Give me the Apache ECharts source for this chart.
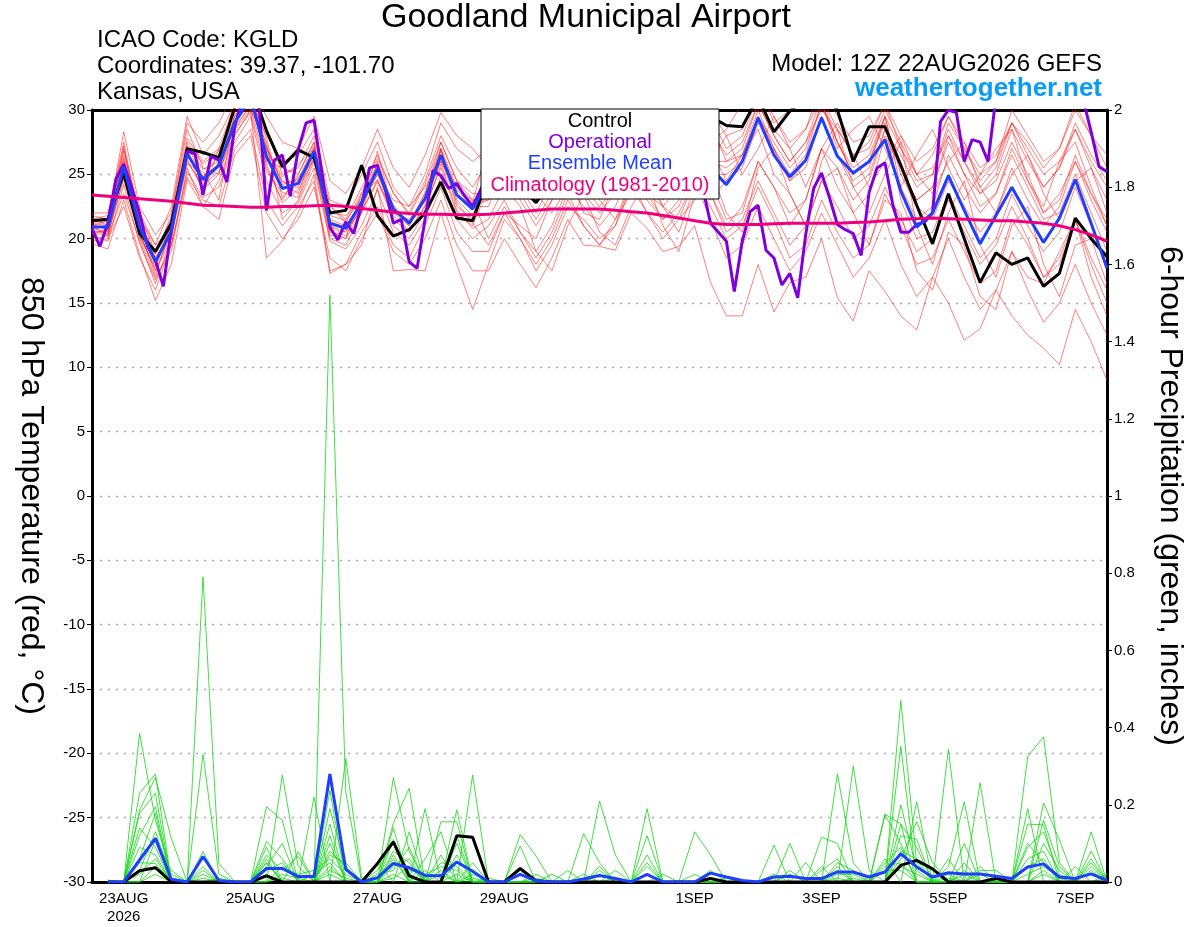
<!DOCTYPE html>
<html><head><meta charset="utf-8">
<script src="https://cdn.jsdelivr.net/npm/echarts@6/dist/echarts.min.js"></script>
<style>html,body{margin:0;padding:0;background:#fff}#chart{width:1200px;height:927px}</style>
</head><body><div id="chart"></div>
<script>
const FONT = '"Liberation Sans", Arial, Helvetica, sans-serif';

// x axis: hours since 12Z 22AUG2026
const xTickHours  = [12, 60, 108, 156, 228, 276, 324, 372];
const xTickLabels = ['23AUG\n2026', '25AUG', '27AUG', '29AUG', '1SEP', '3SEP', '5SEP', '7SEP'];

// ---- 850 hPa temperature (°C), 6-hourly from 12Z 22AUG ----
const tempControl = [21.4,21.5,25.1,20.4,19.0,21.2,27.0,26.7,26.3,30.2,32.0,28.4,25.6,26.9,26.3,22.0,22.2,25.7,21.8,20.2,20.7,22.0,24.4,21.6,21.4,
  24.8,24.0,24.0,22.8,24.5,26.0,27.5,26.0,25.0,27.0,28.5,27.0,26.0,27.5,29.5,
  28.8,28.7,31.0,28.3,29.9,31.0,31.5,30.0,26.0,28.7,28.7,25.7,22.6,19.6,23.5,20.0,16.6,18.9,18.0,18.5,16.3,17.3,21.6,20.0,18.6];
const tempMean = [20.9,20.9,25.6,20.9,18.2,20.6,26.6,24.6,25.7,29.0,31.0,26.4,23.9,24.3,26.8,21.2,20.8,22.8,25.4,22.3,21.2,23.1,26.5,23.4,22.3,
  24.5,25.5,24.5,24.0,25.0,26.0,25.5,26.5,25.5,26.0,27.0,26.5,25.5,26.5,25.5,
  24.2,26.0,29.4,26.5,24.8,26.1,29.4,26.4,25.1,26.0,27.7,23.7,20.9,22.0,24.9,22.2,19.6,21.8,24.0,21.8,19.7,21.6,24.6,21.2,17.7];
// operational run, 3-hourly
const tempOperational = [20.8,19.4,21.2,24.6,25.8,24.0,22.0,19.4,18.3,16.3,20.7,23.8,26.8,26.6,23.4,26.4,26.1,24.4,28.7,31.0,32.0,31.0,22.2,26.1,26.5,
  23.3,26.9,29.0,29.2,25.1,20.9,19.9,21.3,20.4,22.6,25.5,25.7,23.8,21.2,21.5,18.2,17.7,21.5,25.3,24.9,23.9,24.3,23.3,22.5,
  23.8,25.0,26.0,25.5,24.5,25.5,27.0,26.5,25.5,26.0,27.5,28.0,27.0,26.0,26.5,27.0,26.0,25.0,26.5,28.0,27.5,26.0,25.5,27.0,28.5,27.5,26.5,25.5,24.0,
  21.2,20.5,19.8,15.9,19.8,22.1,22.6,19.1,18.5,16.4,17.3,15.4,20.3,23.9,25.1,23.2,21.1,20.7,20.4,18.7,23.6,25.5,25.9,22.6,20.5,20.5,21.1,21.3,22.0,
  29.1,30.0,29.8,26.0,27.7,27.5,26.0,31.0,32.0,32.0,31.5,32.0,32.5,32.0,31.5,32.0,31.5,31.0,30.8,28.3,25.6,25.2];
const tempClimatology = [23.4,23.3,23.2,23.1,23.0,22.9,22.75,22.6,22.55,22.5,22.45,22.45,22.5,22.5,22.55,22.6,22.5,22.35,22.2,22.05,21.95,21.9,21.9,21.85,21.85,
  21.9,22.0,22.1,22.2,22.3,22.3,22.3,22.3,22.2,22.1,22.0,21.8,21.6,21.4,21.2,
  21.1,21.1,21.1,21.15,21.2,21.2,21.2,21.2,21.25,21.3,21.4,21.5,21.55,21.6,21.55,21.5,21.45,21.4,21.4,21.3,21.2,21.0,20.7,20.3,19.8];

// ensemble members (temperature), 6-hourly
const tempMemberA = [21.2,21.0,26.8,21.8,19.0,21.5,27.8,26.0,27.0,30.5,31.5,28.5,25.0,25.5,28.0,22.5,21.5,24.0,26.5,23.5,22.0,24.5,28.0,25.5,24.0,
  26.0,29.0,27.0,25.5,27.5,30.5,28.5,27.0,28.5,31.0,29.0,27.5,29.0,31.5,29.5,27.0,28.0,31.0,28.5,27.0,28.5,32.0,29.5,27.5,28.0,30.5,27.0,25.0,26.5,29.5,27.0,24.5,26.0,29.0,26.5,24.0,25.5,28.5,25.5,23.0];
const tempMemberB = [20.2,19.8,24.2,19.6,16.8,19.5,25.2,23.2,24.0,27.5,29.5,24.5,22.0,22.8,25.5,19.8,19.2,21.0,23.8,20.5,19.5,21.5,24.8,21.5,20.0,
  21.0,23.0,20.5,18.5,20.5,23.5,21.0,19.5,21.0,24.0,22.0,20.0,21.5,24.5,21.5,18.5,19.5,22.5,20.0,17.5,19.0,22.0,19.5,17.0,18.5,21.5,18.0,15.5,17.0,20.0,17.0,14.5,16.0,19.0,16.0,13.5,15.0,18.0,15.0,12.5];
const tempMemberC = [21.8,21.5,28.3,22.5,20.3,22.0,29.0,27.5,29.0,31.5,32.0,29.5,27.5,27.0,29.5,24.5,23.5,25.5,28.5,25.5,24.0,26.5,29.8,28.0,27.0,
  25.5,28.0,26.0,24.5,26.5,29.5,27.0,25.5,27.5,30.0,28.0,26.5,28.0,30.5,28.5,26.5,27.5,30.5,28.0,26.0,27.5,30.0,28.5,26.5,27.5,30.5,28.0,26.0,27.0,29.5,27.5,25.5,26.5,29.0,27.0,25.0,26.0,28.5,26.0,24.0];
const tempMemberD = [19.6,19.2,23.0,18.8,15.2,18.0,24.6,22.5,21.5,26.5,28.0,22.0,20.0,21.5,24.0,18.5,17.5,20.0,22.0,19.0,18.0,20.0,23.0,19.5,17.5,
  17.5,20.0,18.0,16.2,18.5,21.5,19.5,19.4,19.1,22.0,20.8,19.0,19.4,21.0,16.6,14.0,14.0,18.0,14.3,16.6,17.0,20.0,15.4,13.6,17.5,15.9,14.0,12.9,17.0,15.0,12.1,13.0,16.0,14.0,12.5,11.5,10.2,14.5,12.0,9.0];
const tempMemberE = [20.8,20.5,25.0,20.5,17.5,20.0,26.0,24.0,26.0,28.5,30.5,27.0,24.5,23.5,27.0,21.0,20.5,22.5,25.5,22.5,21.0,23.5,27.5,24.5,23.0,
  23.0,26.0,24.0,22.0,24.5,27.5,25.0,23.5,25.0,28.0,25.5,24.0,25.5,28.5,26.0,25.5,26.5,29.5,27.0,25.0,26.5,30.5,27.5,25.5,26.5,29.5,25.0,22.5,21.5,24.5,22.5,20.5,22.0,25.5,23.0,21.0,22.5,26.0,23.5,21.5];
const tempMemberF = [21.5,21.8,27.5,21.2,18.8,21.8,28.5,25.5,25.0,29.5,31.5,25.5,23.0,25.0,27.5,20.5,20.0,23.5,24.5,21.5,20.5,22.5,25.5,22.0,21.0,
  24.0,26.5,23.0,21.0,23.0,25.5,23.5,22.0,23.5,26.5,24.5,22.5,24.0,27.0,24.5,21.5,22.0,26.0,24.0,21.0,23.0,27.0,24.0,22.0,23.5,28.0,25.5,23.0,24.0,28.0,26.0,24.0,25.5,29.0,27.5,25.5,27.0,30.0,28.0,26.5];
const tempMemberG = [20.0,20.2,24.8,20.0,17.0,19.0,25.5,22.5,24.5,28.0,30.0,18.5,19.8,22.0,25.0,17.5,18.0,19.5,24.0,17.5,17.6,17.5,22.0,18.0,14.5,
  18.0,21.5,20.0,17.5,19.5,22.5,21.5,20.0,21.0,24.5,23.0,21.5,22.5,25.5,23.5,21.0,22.5,26.0,24.0,22.0,23.0,27.0,25.5,23.0,24.5,28.5,26.5,24.0,25.0,28.5,26.0,23.5,24.5,27.5,25.0,22.0,23.5,26.0,23.0,20.5];
const tempMemberH = [22.0,22.0,27.0,22.0,19.5,22.5,29.5,26.5,28.0,30.5,31.0,28.0,26.0,26.5,28.5,23.0,22.5,25.0,27.5,24.0,22.5,25.0,29.0,27.0,26.0,
  27.0,30.0,28.5,26.5,28.5,31.5,29.5,28.0,29.5,32.0,30.5,28.5,29.5,32.0,30.0,28.0,28.5,31.5,29.5,27.5,28.5,31.0,28.5,26.5,27.0,30.0,27.5,25.0,25.5,28.0,25.0,22.5,23.5,26.5,24.0,21.5,22.0,25.0,22.0,19.0];
const tempMemberI = [20.5,20.6,26.0,21.0,18.0,20.5,26.5,24.5,25.5,29.0,30.5,26.5,24.0,24.0,26.5,21.5,21.0,22.5,25.0,22.0,21.5,23.0,26.0,23.5,22.5,
  22.5,25.5,23.5,21.5,23.5,26.5,24.0,22.5,24.0,27.0,25.0,23.0,24.5,27.5,25.0,25.0,26.0,29.5,27.5,25.5,27.0,30.5,27.5,25.0,26.0,29.0,23.0,20.0,20.5,23.5,21.0,18.5,20.0,23.5,21.0,19.0,20.5,24.0,21.0,18.0];
const tempMemberJ = [21.0,20.2,23.5,19.8,16.5,20.0,27.0,23.5,27.0,28.5,30.0,27.5,21.5,23.0,26.0,20.0,19.5,22.0,26.0,21.0,20.0,22.0,27.0,22.5,21.5,
  24.5,27.5,25.0,23.0,25.0,28.0,26.0,24.5,26.0,29.0,27.0,25.0,26.5,29.5,27.0,24.5,25.5,29.0,26.5,24.5,26.0,29.5,26.5,24.0,25.0,28.5,25.5,23.0,24.0,27.5,25.0,23.5,25.0,28.5,26.0,24.0,25.5,29.0,26.5,24.5];
const tempMemberK = [21.3,21.3,25.8,21.6,19.5,20.8,25.8,25.2,23.0,29.8,31.5,26.0,25.5,25.0,27.5,22.0,21.8,23.0,25.0,23.0,22.5,24.0,26.0,24.0,23.0,
  20.0,22.5,20.5,19.0,21.0,24.0,22.5,21.0,22.5,25.5,23.5,21.5,23.0,26.0,23.5,20.5,21.5,24.5,22.0,19.5,21.0,24.5,22.5,20.0,21.0,24.0,21.5,19.0,20.0,23.0,20.5,18.0,19.5,22.5,20.0,17.0,18.5,21.5,18.0,15.0];
const tempMemberL = [20.3,20.8,27.2,20.2,17.8,21.2,27.2,24.8,26.5,30.0,31.0,27.8,23.2,24.8,26.0,21.0,20.2,22.5,26.8,22.0,21.0,23.0,27.0,23.0,21.8,
  25.0,28.5,27.0,25.0,26.0,29.0,27.5,26.0,27.0,30.5,28.5,26.5,27.5,31.0,29.0,26.0,26.5,30.0,27.0,24.5,25.5,29.5,26.5,24.5,25.5,29.5,27.0,24.5,25.0,29.0,27.0,25.0,26.0,30.0,28.0,26.0,27.0,30.5,28.0,25.5];
const tempMemberM = [19.8,20.0,22.5,18.5,16.0,19.5,24.8,23.0,22.5,27.0,28.5,23.0,21.0,22.5,24.5,17.3,18.0,20.5,22.5,19.5,18.5,21.0,24.0,20.5,19.0,
  19.0,22.0,20.0,18.0,20.0,23.0,21.0,19.5,21.5,24.5,22.0,20.5,22.0,24.5,22.5,20.0,21.0,24.0,21.5,18.5,19.5,23.0,20.5,18.5,19.5,23.5,21.0,18.0,18.5,21.5,19.0,16.5,17.5,21.5,19.5,17.0,18.0,21.5,18.5,16.0];
const tempMemberN = [21.6,21.0,26.2,21.0,18.6,20.2,27.5,25.8,26.8,29.2,30.8,27.0,24.8,25.8,27.0,22.6,21.2,23.6,26.2,23.6,21.8,24.2,27.5,24.5,23.5,
  23.5,26.5,24.5,23.0,24.0,27.0,25.5,24.0,25.0,28.5,26.5,24.5,26.0,28.5,26.0,26.0,27.0,30.5,28.0,26.0,27.5,31.0,27.5,25.0,26.0,29.5,24.0,21.5,22.5,26.5,24.0,22.0,23.5,27.0,24.5,22.0,23.0,26.5,23.5,21.0];
const tempMemberO = [20.4,20.3,25.2,20.6,17.2,20.8,26.2,23.8,25.0,28.8,30.2,25.8,22.8,23.8,26.2,20.6,20.0,22.0,24.6,21.8,20.6,22.6,26.2,22.8,21.2,
  19.5,22.0,21.0,20.0,23.0,25.5,22.0,21.5,24.5,26.0,23.5,22.5,20.5,24.0,23.0,24.5,26.5,28.5,25.0,23.5,21.0,24.5,25.5,22.0,19.5,23.0,22.0,17.5,16.0,20.5,19.5,15.5,14.5,19.0,17.0,16.5,19.0,21.5,17.0,14.0];
const tempMemberP = [21.0,21.4,26.4,21.4,18.4,21.0,27.2,25.4,26.0,29.5,31.0,27.2,24.2,24.6,27.2,21.8,21.4,23.2,25.8,22.6,21.2,23.6,27.0,24.0,22.8,
  27.5,29.0,25.5,24.0,27.0,28.0,24.5,25.5,28.5,29.5,26.0,27.5,30.0,31.0,27.5,28.5,30.5,32.0,29.0,30.0,31.5,30.5,27.0,28.5,29.5,27.0,24.0,26.5,28.5,25.5,23.0,25.0,27.0,28.5,24.5,22.5,26.0,27.5,24.0,21.0];
const tempMemberQ = [20.6,20.4,24.6,20.2,17.6,20.4,26.8,24.2,25.2,28.2,29.8,25.2,23.6,23.2,26.4,20.2,20.6,22.2,24.4,22.2,21.4,22.2,25.8,22.2,20.8,
  21.5,24.0,22.5,19.0,17.5,21.0,23.5,20.5,19.5,22.5,24.5,21.0,19.0,23.5,25.5,22.0,20.5,25.5,27.0,23.5,21.0,26.0,28.5,24.0,22.0,25.0,27.5,21.0,18.0,22.0,24.5,19.5,17.0,21.0,22.5,18.0,15.5,19.5,20.0,16.5];
const tempMemberR = [21.1,20.7,25.4,21.2,18.9,20.9,26.4,24.8,25.8,29.2,30.6,26.8,24.4,24.4,26.6,21.3,20.9,23.0,25.6,22.4,21.3,23.3,26.8,23.8,22.6,
  23.0,25.0,26.5,23.5,22.0,24.0,26.0,23.0,21.5,23.5,25.5,22.5,21.5,23.0,26.0,28.0,25.0,27.0,29.5,27.0,24.0,27.0,29.0,26.5,24.0,26.0,28.0,25.0,23.5,26.0,27.5,24.0,22.0,25.0,26.5,23.5,21.5,24.5,25.5,22.0];

// ---- 6-hour precipitation (inches), ending 18Z 22AUG ... 12Z 7SEP ----
const precipControl = [0,0,.029,.037,0,0,0,0, 0,0,.016,0,0,0,0,0, 0,.048,.104,.016,0,0,.12,.116, 0,0,.035,.003,0,0,0,0,
  0,0,0,0,0,0,.009,0, 0,0,0,0,0,0,0,0, 0,0,.043,.056,.034,0,0,0, .009,0,0,0,0,0,0,0];
const precipMean = [0,0,.057,.113,.007,0,.066,.004, 0,0,.035,.035,.014,.014,.28,.033, 0,.011,.048,.037,.017,.016,.052,.028, 0,0,.02,.003,0,0,.008,.017,
  .009,0,.02,0,0,0,.023,.013, .004,0,.013,.015,.009,.009,.026,.026, .013,.026,.073,.039,.013,.024,.021,.021, .015,.009,.039,.047,.013,.009,.021,.004];
const precipMember1 = [0,0,.385,.16,.02,0,0,0, 0,0,.105,.06,0,0,.19,.03, 0,0,.27,.08,0,0,.1,0, 0,0,.123,.067,0,0,0,0,
  0,0,.19,0,0,0,0,0, 0,0,0,0,0,0,.28,.05, 0,0,.47,.05,0,0,0,.257, 0,0,.15,.148,0,0,.13,0];
const precipMember2 = [0,0,.23,.28,0,0,.066,0, 0,0,0,.277,.04,0,.238,0, 0,0,.152,.243,0,.07,0,.277, 0,0,0,0,0,0,.125,.05,
  0,0,0,0,0,0,0,0, 0,0,0,.1,0,0,0,.3, .03,0,.352,0,0,.04,.208,0, 0,0,0,.205,.109,0,0,0];
const precipMember3 = [0,0,.187,.27,.113,0,.79,.048, 0,0,.05,0,0,.22,0,.32, .01,0,.06,0,.19,0,.187,0, 0,0,0,0,0,0,0,.21,
  .07,0,0,0,0,0,0,0, 0,0,0,0,0,.116,.1,0, 0,.176,.15,0,0,.344,0,0, 0,0,.325,.376,.05,0,0,0];
const precipMember4 = [.005,0,.178,.23,0,0,.33,.02, 0,0,.195,.16,0,0,1.52,.234, 0,.05,0,.13,0,.156,.156,0, 0,0,0,0,.02,0,0,0,
  0,0,.12,0,0,0,0,0, 0,0,.095,0,0,0,0,0, 0,.06,0,.208,0,0,.1,0, 0,0,.19,0,0,0,.06,0];
const precipMember5 = [0,0,.12,.195,0,0,.079,0, 0,0,.09,0,.079,0,.15,0, 0,0,.14,0,.06,.13,0,.05, 0,0,0,0,0,.03,0,0,
  0,0,0,0,0,.13,.07,0, 0,0,0,0,.05,0,0,0, 0,0,.06,.156,.05,0,0,.03, .03,0,0,0,0,.04,0,.02];
const precipMember6 = [0,0,.06,.178,0,0,0,0, 0,0,.07,.03,.066,0,.1,0, 0,.03,.1,0,0,0,.07,0, 0,0,.093,0,0,0,0,0,
  .03,0,.07,0,0,0,0,0, 0,0,0,0,0,0,.05,.03, 0,.174,.1,0,0,0,0,0, 0,0,0,.1,.03,0,0,0];
const precipMember7 = [0,0,0,.109,.03,0,.02,0, 0,0,.05,0,0,0,.08,.04, 0,0,.08,.05,0,.03,0,0, .01,0,0,0,0,0,0,.02,
  0,0,0,0,0,0,0,0, 0,0,0,.03,0,.04,0,0, 0,0,.08,.06,0,.02,0,0, 0,0,.06,.08,0,0,.03,0];
const precipMember8 = [0,0,.05,.048,0,0,0,.01, 0,0,0,.04,.02,.03,.06,.02, 0,0,.04,.06,0,0,.05,.03, 0,0,0,.02,0,0,.01,0,
  0,0,.04,0,0,0,0,0, 0,0,0,0,0,0,.03,0, 0,.04,.05,0,0,0,.05,0, 0,0,.04,.06,0,0,0,.01];
const precipMember9 = [0,0,.09,.07,0,0,.03,0, 0,0,.03,.05,0,0,.04,0, 0,0,.05,.03,.02,.04,.03,0, 0,0,0,0,0,0,0,.03,
  0,0,0,.02,0,0,0,.01, 0,0,0,0,0,0,.02,.02, 0,0,.15,.09,0,0,0,.02, 0,0,0,.03,0,0,.04,0];
const precipMember10 = [0,0,0,.02,0,0,0,0, 0,0,.02,0,0,0,.03,.01, 0,0,.02,0,0,0,0,.02, 0,0,.03,0,0,0,0,0,
  0,0,.02,0,0,0,0,0, 0,0,0,.02,0,0,0,0, 0,.03,.03,0,0,.01,0,0, 0,0,.02,.04,.01,0,0,0];
const precipMember11 = [0,0,.03,.13,.01,0,.04,0, 0,0,0,.02,.01,0,.12,0, 0,0,.11,.02,0,.05,.04,0, 0,0,0,0,0,0,.02,0,
  0,0,0,0,0,0,.03,0, 0,0,.02,0,0,0,0,.01, 0,0,.12,.11,0,0,.03,0, 0,0,.09,.13,.02,0,0,0];
const precipMember12 = [0,0,.14,.09,0,0,0,0, 0,0,.06,0,0,.02,.05,0, 0,0,.07,0,.03,0,.12,0, 0,0,.02,0,0,0,0,0,
  .01,0,0,0,0,0,0,0, 0,0,0,0,0,.03,.06,0, 0,0,.2,.03,0,.06,0,.04, 0,0,0,.16,.04,0,.08,0];
const precipMember13 = [0,0,.02,.06,0,0,.01,0, 0,0,.04,.1,0,0,.07,.05, 0,.02,.03,.09,0,.02,0,.01, 0,0,0,0,0,0,0,0,
  0,0,.05,0,0,0,0,0, 0,0,0,0,0,0,.04,0, 0,.05,.09,0,0,0,.02,0, 0,0,.1,.05,0,0,0,0];
const precipMember14 = [0,0,0,.04,.01,0,0,0, 0,0,0,.01,0,0,.02,0, 0,0,.01,.04,0,0,.02,0, 0,0,0,.01,0,0,0,.04,
  0,0,0,0,0,.02,0,0, 0,0,0,0,0,0,.01,0, 0,0,.04,.02,0,0,0,0, 0,0,0,.02,0,0,.05,0];

const tempMembers = [tempMemberA,tempMemberB,tempMemberC,tempMemberD,tempMemberE,tempMemberF,tempMemberG,tempMemberH,tempMemberI,
  tempMemberJ,tempMemberK,tempMemberL,tempMemberM,tempMemberN,tempMemberO,tempMemberP,tempMemberQ,tempMemberR];
const precipMembers = [precipMember1,precipMember2,precipMember3,precipMember4,precipMember5,precipMember6,precipMember7,
  precipMember8,precipMember9,precipMember10,precipMember11,precipMember12,precipMember13,precipMember14];

// pair values with their valid hour
const at6h = a => a.map((v, i) => [i * 6, v]);
const at3h = a => a.map((v, i) => [i * 3, v]);
const precipAt = a => a.map((v, i) => [(i + 1) * 6, v]);

const C_RED = 'rgba(255,25,25,0.62)';
const C_GREEN = 'rgba(20,215,20,0.9)';
const C_OP = '#8000dc';
const C_MEAN = '#1f3fff';
const C_CLIM = '#ee007d';

function line(data, yIdx, color, width, z) {
  return { type: 'line', data, yAxisIndex: yIdx, xAxisIndex: 0, symbol: 'none', silent: true,
    lineStyle: { color, width }, z: z || 2, animation: false };
}

const series = [];
tempMembers.forEach(m => series.push(line(at6h(m), 0, C_RED, 0.9, 2)));
precipMembers.forEach(m => series.push(line(precipAt(m), 1, C_GREEN, 0.9, 2)));
series.push(line(at6h(tempControl), 0, '#000', 3, 3));
series.push(line(precipAt(precipControl), 1, '#000', 3, 3));
series.push(line(at3h(tempOperational), 0, C_OP, 3, 3));
series.push(line(at6h(tempMean), 0, C_MEAN, 3, 3));
series.push(line(precipAt(precipMean), 1, C_MEAN, 3, 3));
series.push(line(at6h(tempClimatology), 0, C_CLIM, 3, 3));

const labelMap = {};
xTickHours.forEach((h, i) => { labelMap[h] = xTickLabels[i]; });

const chart = echarts.init(document.getElementById('chart'), null, { renderer: 'canvas' });
chart.setOption({
  animation: false,
  backgroundColor: '#fff',
  textStyle: { fontFamily: FONT },
  grid: { left: 92, right: 93, top: 110, bottom: 45, containLabel: false, outerBoundsMode: 'none' },
  xAxis: [{
    type: 'value', min: 0, max: 384, position: 'bottom',
    axisLine: { show: true, onZero: false, lineStyle: { color: '#000', width: 3 } },
    axisTick: { show: false },
    splitLine: { show: false },
    axisLabel: { customValues: xTickHours, formatter: v => labelMap[v] || '', color: '#000',
      fontSize: 15, fontFamily: FONT, margin: 8, lineHeight: 18 }
  }, {
    type: 'value', min: 0, max: 384, position: 'top',
    axisLine: { show: true, onZero: false, lineStyle: { color: '#000', width: 3 } },
    axisTick: { show: false }, axisLabel: { show: false }, splitLine: { show: false }
  }],
  yAxis: [{
    type: 'value', min: -30, max: 30, interval: 5, position: 'left',
    name: '850 hPa Temperature (red, °C)', nameLocation: 'middle', nameRotate: -90, nameGap: 45,
    nameTextStyle: { fontSize: 32, color: '#000', fontFamily: FONT },
    axisLine: { show: true, onZero: false, lineStyle: { color: '#000', width: 3 } },
    axisTick: { show: true, length: 5, lineStyle: { color: '#000', width: 1 } },
    axisLabel: { color: '#000', fontSize: 15, fontFamily: FONT, margin: 7 },
    splitLine: { show: true, lineStyle: { color: '#aaa', width: 1.3, type: [2, 6] } }
  }, {
    type: 'value', min: 0, max: 2, interval: 0.2, position: 'right',
    name: '6-hour Precipitation (green, inches)', nameLocation: 'middle', nameRotate: -90, nameGap: 47,
    nameTextStyle: { fontSize: 32, color: '#000', fontFamily: FONT },
    axisLine: { show: true, onZero: false, lineStyle: { color: '#000', width: 3 } },
    axisTick: { show: true, length: 5, lineStyle: { color: '#000', width: 1 } },
    axisLabel: { color: '#000', fontSize: 15, fontFamily: FONT, margin: 7,
      formatter: v => String(Math.round(v * 10) / 10) },
    splitLine: { show: false }
  }],
  series,
  graphic: [
    { type: 'text', x: 586, y: 18, z: 100, style: { text: 'Goodland Municipal Airport', font: '34px ' + FONT, fill: '#000', textAlign: 'center', textVerticalAlign: 'middle', align: 'center', verticalAlign: 'middle' } },
    { type: 'text', x: 97, y: 40, z: 100, style: { text: 'ICAO Code: KGLD', font: '24px ' + FONT, fill: '#000', textAlign: 'left', textVerticalAlign: 'middle', align: 'left', verticalAlign: 'middle' } },
    { type: 'text', x: 97, y: 66, z: 100, style: { text: 'Coordinates: 39.37, -101.70', font: '24px ' + FONT, fill: '#000', textAlign: 'left', textVerticalAlign: 'middle', align: 'left', verticalAlign: 'middle' } },
    { type: 'text', x: 97, y: 92, z: 100, style: { text: 'Kansas, USA', font: '24px ' + FONT, fill: '#000', textAlign: 'left', textVerticalAlign: 'middle', align: 'left', verticalAlign: 'middle' } },
    { type: 'text', x: 1102, y: 64, z: 100, style: { text: 'Model: 12Z 22AUG2026 GEFS', font: '24px ' + FONT, fill: '#000', textAlign: 'right', textVerticalAlign: 'middle', align: 'right', verticalAlign: 'middle' } },
    { type: 'text', x: 1102, y: 89, z: 100, style: { text: 'weathertogether.net', font: 'bold 26px ' + FONT, fill: '#0a9cf5', textAlign: 'right', textVerticalAlign: 'middle', align: 'right', verticalAlign: 'middle' } },
    { type: 'rect', z: 100, shape: { x: 481, y: 109, width: 238, height: 90 }, style: { fill: '#fff', stroke: '#000', lineWidth: 1 } },
    { type: 'text', x: 600, y: 121, z: 101, style: { text: 'Control', font: '20px ' + FONT, fill: '#000', textAlign: 'center', textVerticalAlign: 'middle', align: 'center', verticalAlign: 'middle' } },
    { type: 'text', x: 600, y: 142, z: 101, style: { text: 'Operational', font: '20px ' + FONT, fill: C_OP, textAlign: 'center', textVerticalAlign: 'middle', align: 'center', verticalAlign: 'middle' } },
    { type: 'text', x: 600, y: 163, z: 101, style: { text: 'Ensemble Mean', font: '20px ' + FONT, fill: C_MEAN, textAlign: 'center', textVerticalAlign: 'middle', align: 'center', verticalAlign: 'middle' } },
    { type: 'text', x: 600, y: 185, z: 101, style: { text: 'Climatology (1981-2010)', font: '20px ' + FONT, fill: C_CLIM, textAlign: 'center', textVerticalAlign: 'middle', align: 'center', verticalAlign: 'middle' } }
  ]
});
</script>
</body></html>
